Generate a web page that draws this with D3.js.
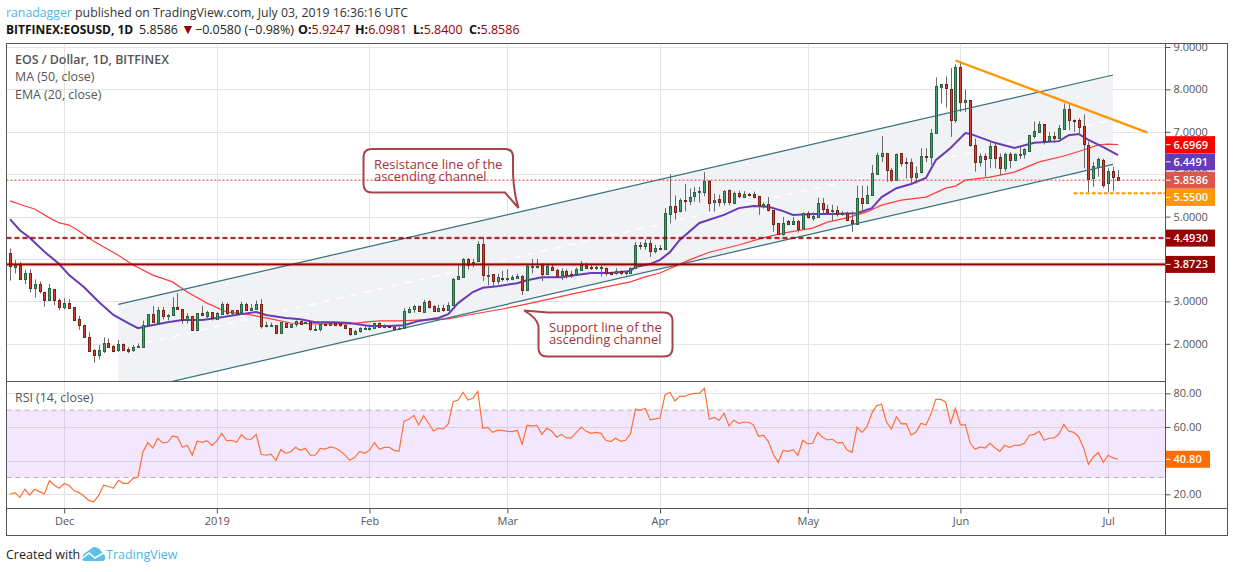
<!DOCTYPE html>
<html>
<head>
<meta charset="utf-8">
<title>EOS / Dollar</title>
<script src="https://cdn.jsdelivr.net/npm/d3@7"></script>
<style>
    html, body { margin: 0; padding: 0; background: #fff; }
    svg { display: block; }
    text { font-family: "Open Sans", sans-serif; }
    .axis .domain { display: none; }
    .axis line { stroke: #555; }
    .axis text { fill: #555; font-size: 11px; }
</style>
</head>
<body>
<div id="chart"></div>
<script>
// Daily candles, first bar on Nov 20 2018, last on Jul 3 2019
const firstDay = Date.UTC(2018, 10, 20);

const opens = [
    4.13, 3.82, 3.85, 3.52, 3.66, 3.30, 3.40, 3.23, 3.03, 3.29, 3.03, 2.87, 2.97, 2.86, 2.58, 2.45, 2.17, 1.85, 1.74, 1.84,
    2.03, 1.95, 1.84, 1.99, 1.88, 1.84, 1.92, 1.93, 2.44, 2.70, 2.50, 2.80, 2.66, 2.68, 2.87, 2.81, 2.56, 2.66, 2.33, 2.72,
    2.66, 2.75, 2.60, 2.72, 2.95, 2.73, 2.79, 2.73, 2.93, 2.80, 2.83, 2.95, 2.44, 2.44, 2.44, 2.26, 2.50, 2.40, 2.46, 2.54,
    2.48, 2.51, 2.34, 2.34, 2.46, 2.45, 2.50, 2.48, 2.44, 2.37, 2.24, 2.29, 2.35, 2.35, 2.37, 2.48, 2.39, 2.41, 2.40, 2.37,
    2.37, 2.76, 2.80, 2.88, 2.75, 3.00, 2.88, 2.78, 2.84, 2.80, 2.92, 3.54, 3.58, 4.00, 3.87, 3.94, 4.35, 3.62, 3.64, 3.49,
    3.56, 3.55, 3.54, 3.56, 3.60, 3.28, 3.84, 3.83, 3.86, 3.66, 3.81, 3.75, 3.62, 3.72, 3.64, 3.64, 3.76, 3.86, 3.80, 3.78,
    3.80, 3.79, 3.69, 3.66, 3.71, 3.66, 3.68, 3.78, 4.32, 4.29, 4.37, 4.19, 4.25, 4.24, 5.06, 5.24, 5.12, 5.39, 5.38, 5.47,
    5.57, 5.59, 5.85, 5.34, 5.41, 5.33, 5.62, 5.33, 5.55, 5.47, 5.53, 5.53, 5.48, 5.25, 5.29, 5.15, 4.84, 4.59, 4.90, 4.83,
    4.90, 4.72, 5.08, 4.98, 4.98, 5.31, 5.18, 5.12, 5.15, 5.05, 5.08, 4.92, 4.84, 5.45, 5.33, 5.49, 6.00, 6.43, 6.49, 6.10,
    5.86, 6.49, 6.28, 6.28, 5.92, 6.05, 6.42, 6.40, 6.95, 8.05, 8.12, 8.02, 7.29, 8.54, 7.71, 7.74, 6.69, 6.29, 6.43, 6.37,
    6.66, 6.40, 6.14, 6.47, 6.33, 6.47, 6.47, 6.55, 6.90, 7.00, 7.18, 6.78, 6.90, 6.84, 7.06, 7.54, 7.29, 7.28, 7.13, 6.70,
    5.90, 6.17, 6.33, 5.78, 6.07, 5.9247
];
const highs = [
    4.25, 3.98, 3.93, 3.74, 3.76, 3.52, 3.47, 3.23, 3.41, 3.29, 3.07, 3.08, 3.05, 2.86, 2.66, 2.45, 2.27, 1.87, 1.97, 2.15,
    2.13, 1.97, 2.09, 2.01, 1.92, 1.97, 2.01, 2.55, 2.70, 2.89, 2.87, 2.87, 2.70, 3.10, 3.19, 2.81, 2.72, 2.66, 2.72, 2.89,
    2.78, 2.75, 2.75, 2.99, 2.97, 2.79, 2.80, 2.99, 2.97, 2.94, 3.02, 3.06, 2.52, 2.50, 2.44, 2.52, 2.52, 2.47, 2.55, 2.54,
    2.52, 2.52, 2.44, 2.51, 2.50, 2.52, 2.52, 2.51, 2.46, 2.37, 2.33, 2.39, 2.42, 2.46, 2.50, 2.50, 2.46, 2.44, 2.42, 2.40,
    2.84, 2.87, 2.92, 2.90, 3.04, 3.03, 2.91, 2.92, 2.92, 2.98, 3.55, 3.88, 4.02, 4.02, 4.00, 4.42, 4.52, 3.83, 3.64, 3.65,
    3.72, 3.76, 3.62, 3.65, 3.62, 3.87, 4.00, 4.00, 3.90, 3.88, 3.87, 3.77, 3.78, 3.76, 3.72, 3.80, 3.95, 3.91, 3.87, 3.85,
    3.86, 3.80, 3.70, 3.78, 3.73, 3.71, 3.80, 4.40, 4.40, 4.46, 4.46, 4.33, 4.33, 5.20, 6.00, 5.50, 5.43, 5.77, 5.66, 5.70,
    5.70, 6.05, 5.86, 5.54, 5.52, 5.62, 5.64, 5.59, 5.61, 5.60, 5.56, 5.59, 5.49, 5.33, 5.46, 5.15, 4.85, 4.99, 4.92, 4.99,
    4.92, 5.10, 5.13, 5.10, 5.45, 5.44, 5.28, 5.28, 5.25, 5.13, 5.12, 5.12, 5.73, 5.73, 5.73, 6.22, 6.51, 6.90, 6.49, 6.14,
    6.49, 6.49, 6.39, 6.37, 6.18, 6.61, 6.61, 7.07, 8.28, 8.12, 8.30, 8.50, 8.59, 8.67, 8.00, 7.74, 6.84, 6.49, 6.49, 6.78,
    6.73, 6.49, 6.51, 6.52, 6.49, 6.65, 6.61, 6.92, 7.24, 7.25, 7.18, 6.99, 7.00, 7.16, 7.67, 7.65, 7.29, 7.32, 7.41, 6.77,
    6.29, 6.39, 6.37, 6.14, 6.18, 6.0981
];
const lows = [
    3.49, 3.66, 3.52, 3.41, 3.21, 3.09, 3.19, 2.88, 3.03, 2.91, 2.80, 2.81, 2.85, 2.55, 2.33, 2.17, 1.84, 1.55, 1.63, 1.78,
    1.92, 1.80, 1.81, 1.84, 1.78, 1.81, 1.91, 1.93, 2.42, 2.50, 2.48, 2.58, 2.55, 2.68, 2.83, 2.47, 2.48, 2.33, 2.30, 2.68,
    2.60, 2.55, 2.58, 2.70, 2.68, 2.68, 2.72, 2.72, 2.78, 2.78, 2.81, 2.36, 2.39, 2.42, 2.23, 2.25, 2.39, 2.39, 2.40, 2.45,
    2.47, 2.31, 2.32, 2.29, 2.42, 2.43, 2.44, 2.40, 2.35, 2.19, 2.22, 2.26, 2.33, 2.31, 2.36, 2.38, 2.37, 2.38, 2.35, 2.35,
    2.35, 2.72, 2.73, 2.75, 2.74, 2.83, 2.75, 2.76, 2.76, 2.80, 2.92, 3.53, 3.56, 3.75, 3.80, 3.94, 3.48, 3.38, 3.37, 3.40,
    3.47, 3.47, 3.50, 3.54, 3.15, 3.28, 3.66, 3.78, 3.48, 3.63, 3.72, 3.55, 3.50, 3.54, 3.55, 3.62, 3.74, 3.78, 3.74, 3.74,
    3.58, 3.60, 3.62, 3.63, 3.63, 3.62, 3.66, 3.78, 4.22, 4.22, 4.05, 4.13, 4.21, 4.24, 4.84, 4.93, 5.10, 5.12, 5.27, 5.35,
    5.33, 5.48, 5.12, 5.12, 5.24, 5.26, 5.27, 5.31, 5.43, 5.45, 5.48, 5.43, 5.04, 5.19, 5.12, 4.64, 4.58, 4.55, 4.81, 4.81,
    4.62, 4.70, 4.95, 4.90, 4.97, 5.08, 5.06, 4.90, 5.00, 5.02, 4.89, 4.64, 4.84, 5.12, 5.33, 5.49, 6.00, 6.29, 5.82, 5.82,
    5.86, 6.18, 5.90, 5.78, 5.78, 6.02, 6.28, 6.22, 6.95, 7.67, 7.57, 6.88, 7.21, 7.47, 7.47, 6.65, 6.06, 6.18, 5.94, 6.14,
    6.14, 5.98, 6.06, 6.14, 6.33, 6.36, 6.37, 6.55, 6.84, 6.99, 6.70, 6.75, 6.73, 6.85, 7.06, 7.04, 7.00, 6.92, 6.14, 5.57,
    5.70, 5.94, 5.68, 5.57, 5.60, 5.84
];
const closes = [
    3.82, 3.87, 3.52, 3.66, 3.30, 3.40, 3.23, 3.03, 3.31, 3.02, 2.87, 2.97, 2.85, 2.56, 2.45, 2.17, 1.84, 1.74, 1.85, 2.03,
    1.93, 1.84, 1.99, 1.86, 1.84, 1.92, 1.95, 2.44, 2.70, 2.50, 2.80, 2.66, 2.69, 2.87, 2.83, 2.56, 2.66, 2.33, 2.72, 2.68,
    2.75, 2.60, 2.73, 2.95, 2.73, 2.79, 2.73, 2.93, 2.80, 2.84, 2.95, 2.44, 2.45, 2.44, 2.25, 2.52, 2.40, 2.47, 2.54, 2.48,
    2.51, 2.34, 2.34, 2.46, 2.44, 2.50, 2.46, 2.43, 2.36, 2.24, 2.30, 2.37, 2.37, 2.38, 2.48, 2.39, 2.42, 2.40, 2.36, 2.37,
    2.77, 2.82, 2.88, 2.76, 2.98, 2.87, 2.77, 2.84, 2.80, 2.91, 3.54, 3.60, 4.00, 3.87, 3.92, 4.35, 3.62, 3.63, 3.48, 3.58,
    3.55, 3.56, 3.58, 3.60, 3.28, 3.84, 3.84, 3.83, 3.65, 3.84, 3.75, 3.62, 3.72, 3.62, 3.63, 3.76, 3.87, 3.80, 3.78, 3.81,
    3.80, 3.68, 3.65, 3.71, 3.66, 3.69, 3.79, 4.33, 4.29, 4.37, 4.19, 4.25, 4.24, 5.08, 5.24, 5.09, 5.39, 5.38, 5.47, 5.57,
    5.60, 5.85, 5.34, 5.39, 5.33, 5.60, 5.33, 5.56, 5.47, 5.53, 5.52, 5.47, 5.26, 5.30, 5.16, 4.83, 4.59, 4.86, 4.83, 4.90,
    4.72, 5.08, 4.98, 5.02, 5.31, 5.17, 5.12, 5.15, 5.05, 5.08, 4.91, 4.84, 5.45, 5.33, 5.51, 6.02, 6.45, 6.49, 6.08, 5.86,
    6.47, 6.25, 6.27, 5.92, 6.02, 6.42, 6.40, 6.96, 8.07, 8.12, 8.02, 7.29, 8.54, 7.71, 7.75, 6.69, 6.29, 6.43, 6.37, 6.66,
    6.37, 6.14, 6.47, 6.33, 6.47, 6.47, 6.59, 6.92, 7.02, 7.18, 6.78, 6.90, 6.85, 7.08, 7.54, 7.28, 7.26, 7.12, 6.70, 5.89,
    6.19, 6.36, 5.74, 6.07, 5.92, 5.8586
];

const emaBars = [0, 2, 4, 7, 10, 12, 15, 18, 21, 24, 26, 28, 32, 35, 39, 42, 47, 50, 52, 56, 59, 62, 66, 69, 73, 77, 80, 83, 87, 89, 91, 94, 96, 99, 103, 105, 108, 112, 115, 118, 122, 126, 127, 130, 132, 134, 136, 140, 145, 148, 151, 154, 157, 159, 163, 167, 172, 175, 177, 180, 183, 186, 188, 191, 194, 195, 200, 204, 208, 213, 215, 217, 219, 222, 225];
const emaValues = [4.94, 4.68, 4.50, 4.17, 3.88, 3.62, 3.34, 2.99, 2.68, 2.49, 2.37, 2.42, 2.51, 2.56, 2.56, 2.61, 2.70, 2.75, 2.68, 2.61, 2.58, 2.51, 2.51, 2.49, 2.42, 2.42, 2.44, 2.54, 2.61, 2.70, 2.96, 3.22, 3.32, 3.36, 3.43, 3.50, 3.57, 3.57, 3.62, 3.67, 3.67, 3.72, 3.81, 3.88, 3.98, 4.16, 4.45, 4.85, 5.04, 5.20, 5.25, 5.23, 5.13, 5.04, 5.06, 5.06, 5.08, 5.20, 5.46, 5.67, 5.77, 5.91, 6.33, 6.62, 6.97, 6.95, 6.74, 6.62, 6.74, 6.78, 6.92, 6.95, 6.81, 6.64, 6.4491];
const maBars = [0, 3, 5, 8, 10, 12, 14, 17, 22, 25, 29, 33, 36, 40, 44, 48, 52, 57, 62, 69, 72, 75, 79, 89, 93, 100, 107, 114, 120, 126, 129, 132, 138, 142, 148, 152, 157, 163, 166, 170, 174, 177, 181, 186, 190, 192, 194, 199, 204, 209, 214, 218, 221, 223, 225];
const maValues = [5.37, 5.25, 5.18, 4.97, 4.85, 4.80, 4.66, 4.42, 4.09, 3.86, 3.62, 3.46, 3.22, 2.96, 2.75, 2.70, 2.61, 2.49, 2.47, 2.47, 2.51, 2.54, 2.54, 2.59, 2.68, 2.82, 2.99, 3.17, 3.32, 3.46, 3.58, 3.67, 3.98, 4.16, 4.33, 4.47, 4.61, 4.73, 4.87, 4.97, 5.11, 5.27, 5.39, 5.46, 5.67, 5.72, 5.86, 5.93, 6.05, 6.29, 6.43, 6.57, 6.69, 6.71, 6.6969];

const rsiValues = [
    20.0, 21.0, 18.2, 23.0, 19.6, 23.0, 21.6, 20.2, 28.1, 25.4, 23.6, 26.5, 25.2, 22.2, 21.0, 19.0, 16.4, 15.6, 19.2, 25.4,
    24.8, 23.6, 28.3, 26.5, 26.5, 29.5, 30.3, 45.3, 50.7, 47.5, 53.3, 50.5, 50.9, 54.5, 54.1, 47.9, 49.1, 43.2, 51.5, 50.9,
    51.9, 49.1, 51.7, 56.2, 51.7, 52.1, 50.9, 55.4, 52.7, 52.7, 55.6, 43.8, 43.2, 43.8, 40.2, 46.5, 44.4, 45.3, 47.9, 46.1,
    47.3, 43.2, 43.2, 47.3, 46.9, 48.1, 47.5, 45.9, 43.4, 40.2, 41.8, 45.5, 44.4, 46.1, 50.7, 46.7, 47.9, 47.9, 46.1, 45.5,
    63.4, 64.6, 66.9, 61.2, 66.7, 62.2, 57.6, 59.2, 58.8, 61.8, 75.0, 76.0, 80.6, 76.0, 77.0, 81.2, 59.2, 59.8, 56.8, 58.0,
    58.0, 57.4, 57.2, 58.0, 49.7, 61.0, 60.6, 61.0, 55.6, 59.2, 57.6, 53.9, 55.6, 53.5, 53.5, 56.8, 59.8, 57.4, 56.2, 56.8,
    56.2, 52.1, 51.3, 53.3, 51.5, 52.1, 56.0, 70.5, 69.9, 71.1, 64.2, 64.8, 65.3, 79.0, 80.6, 75.4, 78.2, 78.2, 79.4, 80.0,
    80.0, 83.0, 64.6, 65.7, 64.0, 68.1, 60.6, 64.0, 62.2, 62.8, 62.8, 61.2, 54.5, 55.1, 51.3, 43.8, 39.0, 46.1, 45.5, 46.5,
    43.2, 52.1, 49.9, 50.3, 56.8, 53.9, 52.3, 52.7, 50.5, 50.9, 46.3, 44.9, 59.8, 56.8, 60.0, 68.1, 72.7, 73.5, 62.6, 58.8,
    66.1, 61.8, 62.0, 55.1, 57.0, 62.2, 61.2, 67.5, 76.4, 76.4, 74.9, 62.2, 71.1, 61.2, 61.2, 50.3, 46.7, 48.1, 47.5, 50.3,
    47.7, 45.5, 49.1, 47.9, 49.1, 49.1, 50.3, 55.1, 55.6, 57.4, 52.1, 53.3, 53.5, 55.8, 61.6, 57.6, 56.8, 54.2, 47.7, 37.8,
    42.2, 44.8, 39.0, 43.2, 41.6, 40.8
];

// Axis ticks
const priceTicks = [2, 3, 4, 5, 6, 7, 8, 9];
const rsiTicks = [20, 40, 60, 80];
const monthTicks = [Date.UTC(2018, 11, 1), Date.UTC(2019, 0, 1), Date.UTC(2019, 1, 1), Date.UTC(2019, 2, 1), Date.UTC(2019, 3, 1), Date.UTC(2019, 4, 1), Date.UTC(2019, 5, 1), Date.UTC(2019, 6, 1)];
const monthLabels = ["Dec", "2019", "Feb", "Mar", "Apr", "May", "Jun", "Jul"];

// Drawn lines (bar index, price)
const channelBars = [22, 224];
const channelUpper = [2.93, 8.34];
const channelLower = [0.82, 6.23];
const trendBars = [192, 231];
const trendValues = [8.68, 6.98];
const supportBar = 216;

// Price levels and the tags on the axis
const lastClose = 5.8586;
const lastEma = 6.4491;
const lastMa = 6.6969;
const orangeLevel = 5.55;
const dashedLevel = 4.493;
const solidLevel = 3.8723;
const lastRsi = 40.8;

const width = 1234, height = 572;
const plot = { left: 6.5, right: 1165.5, top: 43.5, mainBottom: 381.5, rsiBottom: 508.5, bottom: 535.5, outer: 1227.5 };

const dayMs = 86400000;
const dateOf = i => firstDay + i * dayMs;

const x = d3.scaleUtc().domain([dateOf(0), dateOf(225)]).range([10, 1118]);
const y = d3.scaleLinear().domain([2, 9]).range([343.8, 47]);
const yRsi = d3.scaleLinear().domain([20, 80]).range([494.3, 393.3]);
const xBar = i => x(dateOf(i));

const svg = d3.select("#chart").append("svg").attr("width", width).attr("height", height);

const defs = svg.append("defs");
defs.append("clipPath").attr("id", "clip-main").append("rect")
    .attr("x", plot.left).attr("y", plot.top)
    .attr("width", plot.right - plot.left).attr("height", plot.mainBottom - plot.top);
defs.append("clipPath").attr("id", "clip-rsi").append("rect")
    .attr("x", plot.left).attr("y", plot.mainBottom)
    .attr("width", plot.right - plot.left).attr("height", plot.rsiBottom - plot.mainBottom);

const gridColor = "#e4e4e4";

// Grid
const grid = svg.append("g");
grid.selectAll(".vgrid").data(monthTicks).enter().append("line")
    .attr("x1", d => Math.round(x(d)) + 0.5).attr("x2", d => Math.round(x(d)) + 0.5)
    .attr("y1", plot.top).attr("y2", plot.rsiBottom)
    .attr("stroke", gridColor);
grid.selectAll(".hgrid").data(priceTicks).enter().append("line")
    .attr("x1", plot.left).attr("x2", plot.right)
    .attr("y1", d => Math.round(y(d)) + 0.5).attr("y2", d => Math.round(y(d)) + 0.5)
    .attr("stroke", gridColor);
grid.selectAll(".rgrid").data(rsiTicks).enter().append("line")
    .attr("x1", plot.left).attr("x2", plot.right)
    .attr("y1", d => Math.round(yRsi(d)) + 0.5).attr("y2", d => Math.round(yRsi(d)) + 0.5)
    .attr("stroke", gridColor);

const main = svg.append("g").attr("clip-path", "url(#clip-main)");

// Channel fill goes under the candles
const channelPoly = [
    [xBar(channelBars[0]), y(channelUpper[0])],
    [xBar(channelBars[1]), y(channelUpper[1])],
    [xBar(channelBars[1]), y(channelLower[1])],
    [xBar(channelBars[0]), y(channelLower[0])]
];
main.append("polygon").attr("points", channelPoly.join(" ")).attr("fill", "#eff1f4").attr("fill-opacity", 0.9);

main.append("line")
    .attr("x1", xBar(channelBars[0])).attr("x2", xBar(channelBars[1]))
    .attr("y1", y((channelUpper[0] + channelLower[0]) / 2))
    .attr("y2", y((channelUpper[1] + channelLower[1]) / 2))
    .attr("stroke", "#fff").attr("stroke-width", 1.5).attr("stroke-dasharray", "7 7");

// Moving averages
const line = d3.line();
main.append("path")
    .attr("d", line(maBars.map((b, i) => [xBar(b), y(maValues[i])])))
    .attr("fill", "none").attr("stroke", "#ff3b3b").attr("stroke-width", 1.2);
main.append("path")
    .attr("d", line(emaBars.map((b, i) => [xBar(b), y(emaValues[i])])))
    .attr("fill", "none").attr("stroke", "#673ab7").attr("stroke-width", 2);

// Candles: three pixels wide, dark edge around a one pixel core
const candles = main.selectAll(".candle").data(d3.range(opens.length)).enter().append("g").attr("class", "candle");
candles.append("line")
    .attr("x1", i => Math.round(xBar(i)) + 0.5).attr("x2", i => Math.round(xBar(i)) + 0.5)
    .attr("y1", i => y(highs[i])).attr("y2", i => y(lows[i]))
    .attr("stroke", "#6a6a6a");
candles.append("rect")
    .attr("x", i => Math.round(xBar(i)) - 0.5)
    .attr("width", 2)
    .attr("y", i => Math.round(y(Math.max(opens[i], closes[i]))) + 0.5)
    .attr("height", i => Math.max(1, Math.round(Math.abs(y(opens[i]) - y(closes[i])))))
    .attr("fill", i => closes[i] >= opens[i] ? "#43a071" : "#d8402f")
    .attr("stroke", i => closes[i] >= opens[i] ? "#27633f" : "#7a2116");

// Channel lines
[channelUpper, channelLower].forEach(vals => {
    main.append("line")
        .attr("x1", xBar(channelBars[0])).attr("x2", xBar(channelBars[1]))
        .attr("y1", y(vals[0])).attr("y2", y(vals[1]))
        .attr("stroke", "#35707a").attr("stroke-width", 1.2);
});

// Horizontal levels
const levelLine = (v, color, w, dash, opacity) => main.append("line")
    .attr("x1", plot.left).attr("x2", plot.right)
    .attr("y1", y(v)).attr("y2", y(v))
    .attr("stroke", color).attr("stroke-width", w)
    .attr("stroke-opacity", opacity || 1)
    .attr("stroke-dasharray", dash || null);
levelLine(dashedLevel, "#990000", 3, "5 3", 0.25);
levelLine(dashedLevel, "#990000", 1.5, "5 3");
levelLine(solidLevel, "#990000", 3.5, null, 0.3);
levelLine(solidLevel, "#990000", 1.6);

// Orange trend line and support
main.append("line")
    .attr("x1", xBar(trendBars[0])).attr("x2", xBar(trendBars[1]))
    .attr("y1", y(trendValues[0])).attr("y2", y(trendValues[1]))
    .attr("stroke", "#ff9800").attr("stroke-width", 2.2);
main.append("line")
    .attr("x1", xBar(supportBar)).attr("x2", plot.right)
    .attr("y1", y(orangeLevel)).attr("y2", y(orangeLevel))
    .attr("stroke", "#ff9800").attr("stroke-width", 2).attr("stroke-dasharray", "4 2");

// Callouts
const calloutStroke = "#a8434a";
svg.append("path")
    .attr("d", "M372,149 H505 Q513,149 513,157 V174 Q514,194 518.5,208 L505,192.5 H372 Q363.5,192.5 363.5,184 V157 Q363.5,149 372,149 Z")
    .attr("fill", "#fff").attr("stroke", calloutStroke).attr("stroke-width", 2);
svg.append("path")
    .attr("d", "M524,310.5 L548,312.5 H664 Q672.5,312.5 672.5,321 V348 Q672.5,356.5 664,356.5 H547 Q538.5,356.5 538.5,348 V326 Q537,318 524,310.5 Z")
    .attr("fill", "#fff").attr("stroke", calloutStroke).attr("stroke-width", 2);
const calloutText = (tx, ty, str) => svg.append("text")
    .attr("x", tx).attr("y", ty).attr("fill", "#a8323a").attr("font-size", 13).text(str);
calloutText(374, 169, "Resistance line of the");
calloutText(374, 181, "ascending channel");
calloutText(549, 332, "Support line of the");
calloutText(549, 344, "ascending channel");

// Last price line runs over everything
svg.append("line")
    .attr("x1", plot.left).attr("x2", plot.right)
    .attr("y1", y(lastClose)).attr("y2", y(lastClose))
    .attr("stroke", "#e53935").attr("stroke-dasharray", "2 2");

// RSI pane
const rsiBand = svg.append("g").attr("clip-path", "url(#clip-rsi)");
rsiBand.append("rect")
    .attr("x", plot.left).attr("width", plot.right - plot.left)
    .attr("y", yRsi(70)).attr("height", yRsi(30) - yRsi(70))
    .attr("fill", "#8e24ff").attr("fill-opacity", 0.11);
[70, 30].forEach(v => {
    rsiBand.append("line")
        .attr("x1", plot.left).attr("x2", plot.right)
        .attr("y1", yRsi(v)).attr("y2", yRsi(v))
        .attr("stroke", "#b9aec0").attr("stroke-dasharray", "5 4");
});
rsiBand.append("path")
    .attr("d", d3.line().x((d, i) => xBar(i)).y(d => yRsi(d))(rsiValues))
    .attr("fill", "none").attr("stroke", "#ff7032").attr("stroke-width", 1.2);

// Axes
svg.append("g").attr("class", "axis")
    .attr("transform", `translate(${plot.right},0)`)
    .call(d3.axisRight(y).tickValues(priceTicks).tickSize(5).tickPadding(3)
        .tickFormat(d => d === 4 ? "" : d3.format(".4f")(d)));
svg.append("g").attr("class", "axis")
    .attr("transform", `translate(${plot.right},0)`)
    .call(d3.axisRight(yRsi).tickValues(rsiTicks.filter(d => d !== 40)).tickSize(5).tickPadding(3)
        .tickFormat(d3.format(".2f")));
svg.append("g").attr("class", "axis")
    .attr("transform", `translate(0,${plot.rsiBottom})`)
    .call(d3.axisBottom(x).tickValues(monthTicks).tickSize(5).tickPadding(4)
        .tickFormat((d, i) => monthLabels[i]));

// Price tags on the axis, pushed apart when they would overlap
const tagH = 17;
const tags = [
    { v: lastMa, text: d3.format(".4f")(lastMa), color: "#ff0000" },
    { v: lastEma, text: d3.format(".4f")(lastEma), color: "#673ab7" },
    { v: lastClose, text: d3.format(".4f")(lastClose), color: "#d9584a" },
    { v: orangeLevel, text: d3.format(".4f")(orangeLevel), color: "#ff9800" },
    { v: dashedLevel, text: d3.format(".4f")(dashedLevel), color: "#990000" },
    { v: solidLevel, text: d3.format(".4f")(solidLevel), color: "#990000" }
];
let prevY = -Infinity;
tags.forEach(t => {
    t.cy = Math.max(y(t.v), prevY + tagH + 0.2);
    t.w = 49.5;
    prevY = t.cy;
});
tags.push({ cy: yRsi(lastRsi), text: d3.format(".2f")(lastRsi), color: "#ff6d00", w: 44.5 });

const tagG = svg.selectAll(".tag").data(tags).enter().append("g").attr("class", "tag");
tagG.append("rect")
    .attr("x", plot.right).attr("width", d => d.w)
    .attr("y", d => d.cy - tagH / 2).attr("height", tagH)
    .attr("fill", d => d.color);
tagG.append("line")
    .attr("x1", plot.right).attr("x2", plot.right + 5)
    .attr("y1", d => d.cy).attr("y2", d => d.cy)
    .attr("stroke", "#fff");
tagG.append("text")
    .attr("x", plot.right + 8).attr("y", d => d.cy + 4)
    .attr("fill", "#fff").attr("font-size", 11).attr("font-weight", 600)
    .text(d => d.text);

// Frame
const frameColor = "#555";
const frame = svg.append("g").attr("fill", "none").attr("stroke", frameColor);
frame.append("rect")
    .attr("x", plot.left).attr("y", plot.top)
    .attr("width", plot.outer - plot.left).attr("height", plot.bottom - plot.top);
frame.append("line").attr("x1", plot.right).attr("x2", plot.right).attr("y1", plot.top).attr("y2", plot.bottom);
frame.append("line").attr("x1", plot.left).attr("x2", plot.right).attr("y1", plot.mainBottom).attr("y2", plot.mainBottom);
frame.append("line").attr("x1", plot.left).attr("x2", plot.outer).attr("y1", plot.rsiBottom).attr("y2", plot.rsiBottom);

// Pane legends
const legend = (ty, str, bold) => svg.append("text")
    .attr("x", 15).attr("y", ty).attr("fill", "#555").attr("font-size", 12.4)
    .attr("font-weight", bold ? 600 : 400).text(str);
legend(64, "EOS / Dollar, 1D, BITFINEX", true);
legend(81, "MA (50, close)");
legend(99, "EMA (20, close)");
legend(402, "RSI (14, close)");

// Header
const head = svg.append("text").attr("x", 6).attr("y", 17).attr("font-size", 12.3).attr("fill", "#333");
head.append("tspan").attr("fill", "#4cb7e6").text("ranadagger");
head.append("tspan").text(" published on TradingView.com, July 03, 2019 16:36:16 UTC");

const sub = svg.append("text").attr("y", 34).attr("font-size", 12.5).attr("fill", "#222");
const seg = (sx, txt, fill, bold, size) => sub.append("tspan").attr("x", sx)
    .attr("fill", fill || "#222").attr("font-weight", bold ? 700 : 400)
    .attr("font-size", size || null).text(txt);
seg(6, "BITFINEX:EOSUSD, 1D", "#111", true, 12);
seg(139, "5.8586");
seg(181, "\u25bc", "#990000", false, 14);
seg(195, "\u22120.0580 (\u22120.98%)");
seg(298, "O:", "#111", true); sub.append("tspan").attr("fill", "#990000").text("5.9247");
seg(355, "H:", "#111", true); sub.append("tspan").attr("fill", "#990000").text("6.0981");
seg(413, "L:", "#111", true); sub.append("tspan").attr("fill", "#990000").text("5.8400");
seg(469, "C:", "#111", true); sub.append("tspan").attr("fill", "#990000").text("5.8586");

// Footer
svg.append("text").attr("x", 6).attr("y", 559).attr("font-size", 12.5).attr("fill", "#222").text("Created with");
const logo = svg.append("g");
logo.append("path")
    .attr("d", "M82,558 Q82,555 85,553 L92,548 Q94,546.5 97,547.5 Q100,548.5 101,551 L105,556 Q106,561 102,561 H85 Q82,561 82,558 Z")
    .attr("fill", "#5bc0e8");
logo.append("path")
    .attr("d", "M82,558.5 L89,553 L95,558 L105,552")
    .attr("fill", "none").attr("stroke", "#fff").attr("stroke-width", 1.5);
svg.append("text").attr("x", 106).attr("y", 559).attr("font-size", 12.5).attr("fill", "#4cb7e6").text("TradingView");
</script>
</body>
</html>
